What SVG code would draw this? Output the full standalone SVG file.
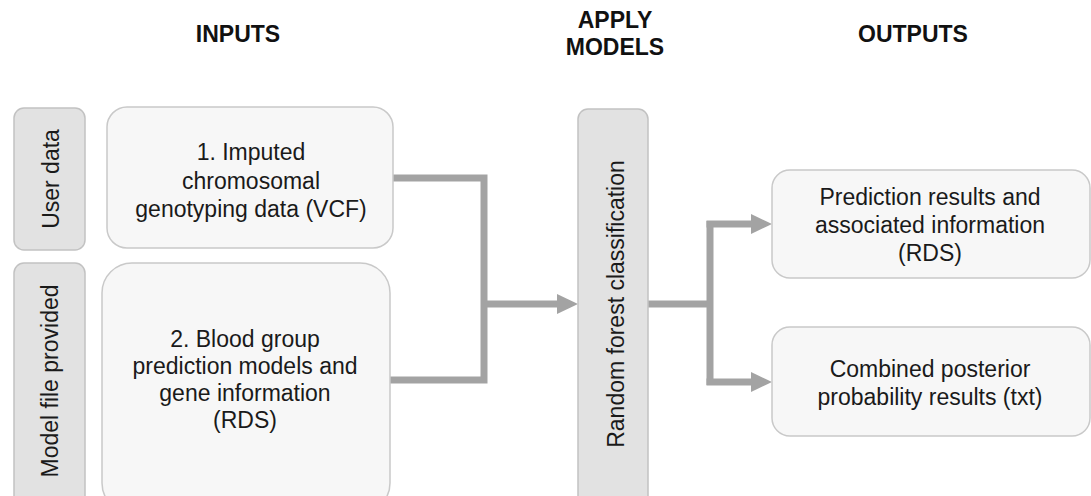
<svg xmlns="http://www.w3.org/2000/svg" width="1091" height="496" viewBox="0 0 1091 496">
<style>
.hdr{font-family:"Liberation Sans",Arial,sans-serif;font-weight:bold;font-size:23px;fill:#111;text-anchor:middle}
.txt{font-family:"Liberation Sans",Arial,sans-serif;font-size:23px;fill:#1a1a1a;text-anchor:middle}
.node{fill:#f7f7f7;stroke:#c9c9c9;stroke-width:1.5}
.side{fill:#e2e2e2;stroke:#c2c2c2;stroke-width:1.5}
.conn{fill:none;stroke:#a3a3a3;stroke-width:7}
</style>
<defs>
<marker id="arr" markerUnits="userSpaceOnUse" markerWidth="22" markerHeight="22" refX="0" refY="10" orient="auto" viewBox="0 0 22 20">
<path d="M0,0 L21,10 L0,20 Z" fill="#a3a3a3"/>
</marker>
</defs>
<rect width="1091" height="496" fill="#ffffff"/>
<g id="headers">
<text class="hdr" x="238" y="42">INPUTS</text>
<text class="hdr" x="615" y="28">APPLY</text>
<text class="hdr" x="615" y="55">MODELS</text>
<text class="hdr" x="913" y="42">OUTPUTS</text>
</g>
<g id="connectors">
<path class="conn" d="M393,178 H484 V380 H390"/>
<path class="conn" d="M484,304 H557" marker-end="url(#arr)"/>
<path class="conn" d="M648,304 H710"/>
<path class="conn" d="M710,221 V385"/>
<path class="conn" d="M706.5,224 H751" marker-end="url(#arr)"/>
<path class="conn" d="M706.5,382 H751" marker-end="url(#arr)"/>
</g>
<g id="user-data">
<rect class="side" x="14" y="108" width="71" height="142" rx="10"/>
<text class="txt" transform="translate(59,179) rotate(-90)">User data</text>
</g>
<g id="model-file">
<rect class="side" x="14" y="263" width="71" height="250" rx="10"/>
<text class="txt" transform="translate(58,381) rotate(-90)">Model file provided</text>
</g>
<g id="input-vcf">
<rect class="node" x="107" y="107" width="286" height="141" rx="20"/>
<text class="txt" x="251" y="160">1. Imputed</text>
<text class="txt" x="251" y="189">chromosomal</text>
<text class="txt" x="251" y="217">genotyping data (VCF)</text>
</g>
<g id="input-rds">
<rect class="node" x="102" y="263" width="288" height="250" rx="30"/>
<text class="txt" x="245" y="347">2. Blood group</text>
<text class="txt" x="245" y="374">prediction models and</text>
<text class="txt" x="245" y="401">gene information</text>
<text class="txt" x="245" y="428">(RDS)</text>
</g>
<g id="random-forest">
<rect class="side" x="578" y="109" width="70" height="400" rx="10"/>
<text class="txt" transform="translate(624,304) rotate(-90)">Random forest classification</text>
</g>
<g id="output-rds">
<rect class="node" x="772" y="170" width="318" height="108" rx="18"/>
<text class="txt" x="930" y="205">Prediction results and</text>
<text class="txt" x="930" y="233">associated information</text>
<text class="txt" x="930" y="261">(RDS)</text>
</g>
<g id="output-txt">
<rect class="node" x="772" y="327" width="318" height="109" rx="18"/>
<text class="txt" x="930" y="377">Combined posterior</text>
<text class="txt" x="930" y="405">probability results (txt)</text>
</g>
</svg>
